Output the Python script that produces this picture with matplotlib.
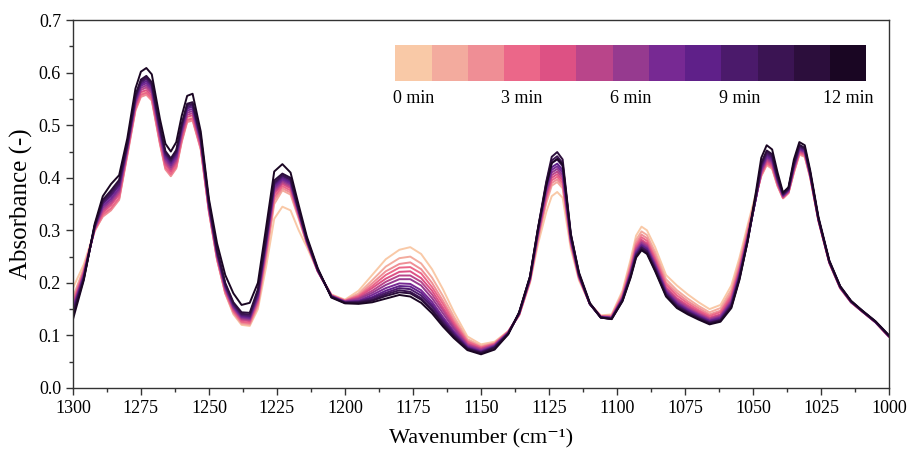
import numpy as np
import matplotlib
matplotlib.use("Agg")
import matplotlib.pyplot as plt
from matplotlib.ticker import MultipleLocator, FormatStrFormatter
from matplotlib.colors import ListedColormap

plt.rcParams['font.family'] = ['Liberation Serif', 'DejaVu Serif']

# Wavenumber grid (cm^-1)
wavenumber = [1300, 1296, 1292, 1289, 1286, 1283, 1280, 1277, 1275, 1273, 1271, 1268, 1266, 1264, 1262,
              1260, 1258, 1256, 1253, 1250, 1247, 1244, 1241, 1238, 1235, 1232, 1229, 1226, 1223, 1220,
              1217, 1214, 1210, 1205, 1200, 1195, 1190, 1185, 1180, 1176, 1172, 1168, 1164, 1160, 1155,
              1150, 1145, 1140, 1136, 1132, 1129, 1126, 1124, 1122, 1120, 1117, 1114, 1110, 1106, 1102,
              1098, 1095, 1093, 1091, 1089, 1086, 1082, 1078, 1074, 1070, 1066, 1062, 1058, 1055, 1052,
              1049, 1047, 1045, 1043, 1041, 1039, 1037, 1035, 1033, 1031, 1029, 1026, 1022, 1018, 1014,
              1010, 1005, 1000]

# Absorbance x 1000 for each time (min)
t00 = [190,235,300,332,348,372,455,535,560,565,555,472,425,408,425,475,512,515,458,338,245,180,140,120,118,150,230,322,345,338,300,268,222,178,168,185,215,245,263,268,255,226,188,145,98,83,88,108,138,200,275,335,365,373,362,265,205,160,138,140,185,245,290,307,300,268,215,195,178,163,150,158,195,248,310,370,405,425,418,385,362,372,410,445,440,400,318,238,190,163,146,125,97]
t01 = [172,228,298,328,340,360,445,530,556,560,549,466,418,405,420,470,508,511,455,336,244,180,142,122,120,155,245,350,376,368,322,274,222,177,167,180,205,231,247,250,237,210,175,136,93,80,86,108,138,202,283,352,385,392,380,272,208,160,137,138,181,238,282,298,291,259,207,186,170,156,144,152,187,240,304,366,403,424,417,384,361,371,410,444,440,400,318,238,190,163,146,125,97]
t02 = [166,225,300,326,338,358,442,528,554,558,547,464,416,403,418,468,506,509,454,335,244,181,144,124,122,158,250,357,380,372,325,275,222,177,166,177,199,222,236,239,226,200,166,130,90,78,85,107,139,203,286,357,390,397,385,274,209,160,137,137,178,233,276,292,285,253,201,181,165,152,140,147,181,234,299,364,404,426,419,385,361,371,411,445,441,401,319,238,190,163,146,125,97]
t03 = [162,222,301,330,342,362,446,532,558,562,551,468,420,407,422,472,510,513,457,337,246,183,146,126,124,162,256,363,384,376,327,276,222,176,166,175,194,215,229,230,218,192,160,125,88,77,84,107,139,204,289,362,395,402,390,276,210,160,136,136,176,229,271,287,280,247,197,176,161,148,137,144,176,229,295,362,406,428,421,387,362,372,413,447,443,402,319,239,190,163,146,125,97]
t04 = [158,220,302,334,348,368,450,537,563,567,556,474,426,412,428,478,516,519,461,340,249,186,149,129,127,166,262,369,388,380,329,277,222,176,165,173,190,208,221,222,209,185,153,121,85,75,83,106,140,205,292,367,400,407,395,278,211,160,136,135,174,226,267,282,275,243,192,171,157,145,134,140,172,225,292,361,408,431,424,389,363,373,415,449,445,403,320,239,191,163,146,125,97]
t05 = [155,218,303,338,352,372,452,540,567,572,561,478,430,416,432,482,520,523,464,342,251,188,151,131,129,169,266,373,391,383,331,278,223,175,165,171,185,202,214,214,202,178,148,117,83,74,82,106,140,206,294,371,405,412,400,280,212,160,136,134,172,223,264,279,272,239,189,168,154,142,132,138,168,222,289,360,410,434,427,391,364,374,417,451,447,404,320,239,191,164,146,125,98]
t06 = [152,216,304,342,356,376,455,543,571,576,565,482,434,420,436,486,524,527,467,344,253,190,153,133,131,172,270,377,394,386,333,279,223,175,164,169,181,196,207,207,195,171,142,113,81,72,81,105,141,207,296,375,410,417,405,282,213,160,135,134,171,221,261,276,269,236,186,165,151,140,130,136,165,219,287,360,413,437,430,393,365,375,419,453,449,405,321,240,191,164,146,125,98]
t07 = [150,214,305,346,360,380,458,546,575,580,569,486,438,424,440,490,528,531,470,346,255,192,155,135,133,175,274,381,397,389,335,280,224,175,164,166,177,190,199,198,186,164,135,108,79,70,80,105,141,208,298,379,415,422,410,284,214,160,135,133,170,218,258,273,266,233,184,162,149,138,128,134,162,216,285,360,416,440,433,395,366,376,421,455,450,406,321,240,192,164,147,125,98]
t08 = [147,212,306,350,365,385,460,549,578,584,573,490,442,428,444,494,532,535,473,348,257,194,157,137,135,178,278,385,400,392,337,281,224,174,163,165,173,185,194,193,181,159,131,105,77,69,79,104,142,209,300,383,420,427,415,286,215,160,135,133,169,217,256,271,264,231,182,160,147,136,127,132,160,214,283,361,419,443,436,397,367,377,423,457,452,407,322,240,192,164,147,126,98]
t09 = [145,210,307,352,368,388,462,552,581,588,576,493,445,431,447,497,535,538,475,350,259,196,159,139,137,181,281,388,403,395,338,282,225,174,163,164,171,181,190,188,176,155,128,103,76,68,78,104,142,210,302,387,428,435,422,289,216,160,134,132,168,215,254,268,261,228,180,158,145,135,125,130,158,212,281,362,422,446,439,399,368,378,425,459,454,408,322,241,192,165,147,126,98]
t10 = [142,209,308,355,372,392,464,555,584,591,579,496,448,434,450,500,538,541,477,352,261,198,161,141,140,184,284,391,405,397,339,283,225,174,162,163,168,178,186,183,171,150,124,100,75,67,77,103,143,211,304,390,433,441,428,291,217,160,134,132,167,214,252,267,260,227,178,156,144,133,124,129,156,210,280,364,425,449,442,401,369,379,427,461,455,409,323,241,193,165,147,126,99]
t11 = [138,207,309,358,376,396,466,558,587,594,582,499,451,437,453,503,541,544,479,354,263,200,163,144,143,188,288,395,408,400,340,284,226,173,162,162,166,175,182,180,168,147,121,98,74,66,76,103,143,212,306,393,440,449,435,294,218,160,134,131,166,212,250,264,257,224,176,154,142,132,123,128,154,208,279,366,428,452,445,403,370,380,429,463,457,410,323,241,193,165,147,126,99]
t12 = [130,205,312,365,388,405,475,570,602,609,597,512,465,450,468,518,556,560,488,360,275,215,180,158,162,200,305,412,426,410,348,288,228,172,161,160,163,170,177,174,162,142,117,95,72,64,73,102,144,212,305,385,428,436,425,292,220,162,134,131,165,210,248,262,255,222,174,152,140,130,121,126,152,206,280,372,438,462,454,410,372,382,435,468,462,414,326,243,194,166,148,127,100]

series = [t00, t01, t02, t03, t04, t05, t06, t07, t08, t09, t10, t11, t12]
times = list(range(13))
label_times = [0, 3, 6, 9, 12]
colors = ['#f9c9a7', '#f3ab9e', '#ef8e95', '#eb6789', '#dd5184', '#b9458a', '#963a8f',
          '#772993', '#5f2089', '#4b1a6b', '#3b1453', '#2c0e3c', '#1a0623']

for s in series:
    assert len(s) == len(wavenumber), len(s)

fig = plt.figure(figsize=(9.11, 4.49), dpi=100)
ax = fig.add_axes([0.080, 0.136, 0.896, 0.819])

wn = np.array(wavenumber)
for s, c in zip(series, colors):
    ax.plot(wn, np.array(s) / 1000.0, color=c, lw=1.4,
            solid_joinstyle='round', solid_capstyle='round')

ax.set_xlim(1300, 1000)
ax.set_ylim(0, 0.7)
ax.xaxis.set_major_locator(MultipleLocator(25))
ax.xaxis.set_minor_locator(MultipleLocator(12.5))
ax.yaxis.set_major_locator(MultipleLocator(0.1))
ax.yaxis.set_minor_locator(MultipleLocator(0.05))
ax.yaxis.set_major_formatter(FormatStrFormatter('%.1f'))
ax.tick_params(which='both', direction='out', top=False, right=False, labelsize=13, color='#333333')
ax.tick_params(which='major', length=5, width=1)
ax.tick_params(which='minor', length=3, width=1)
for sp in ax.spines.values():
    sp.set_color('#333333')
    sp.set_linewidth(1.0)

ax.set_xlabel('Wavenumber (cm\u207b\u00b9)', fontsize=16, labelpad=9)
ax.set_ylabel('Absorbance (-)', fontsize=18, labelpad=4)

# Discrete colour bar for time
cax = ax.inset_axes([0.395, 0.834, 0.577, 0.098])
cax.pcolormesh(np.arange(len(times) + 1), [0, 1], np.array(times)[None, :],
               cmap=ListedColormap(colors), shading='flat')
cax.set_xlim(0, len(times))
cax.set_ylim(0, 1)
cax.axis('off')
for t in label_times:
    cax.text(t + 0.5, -0.25, f'{t} min', ha='center', va='top', fontsize=13)

fig.savefig('out.png', dpi=100)
